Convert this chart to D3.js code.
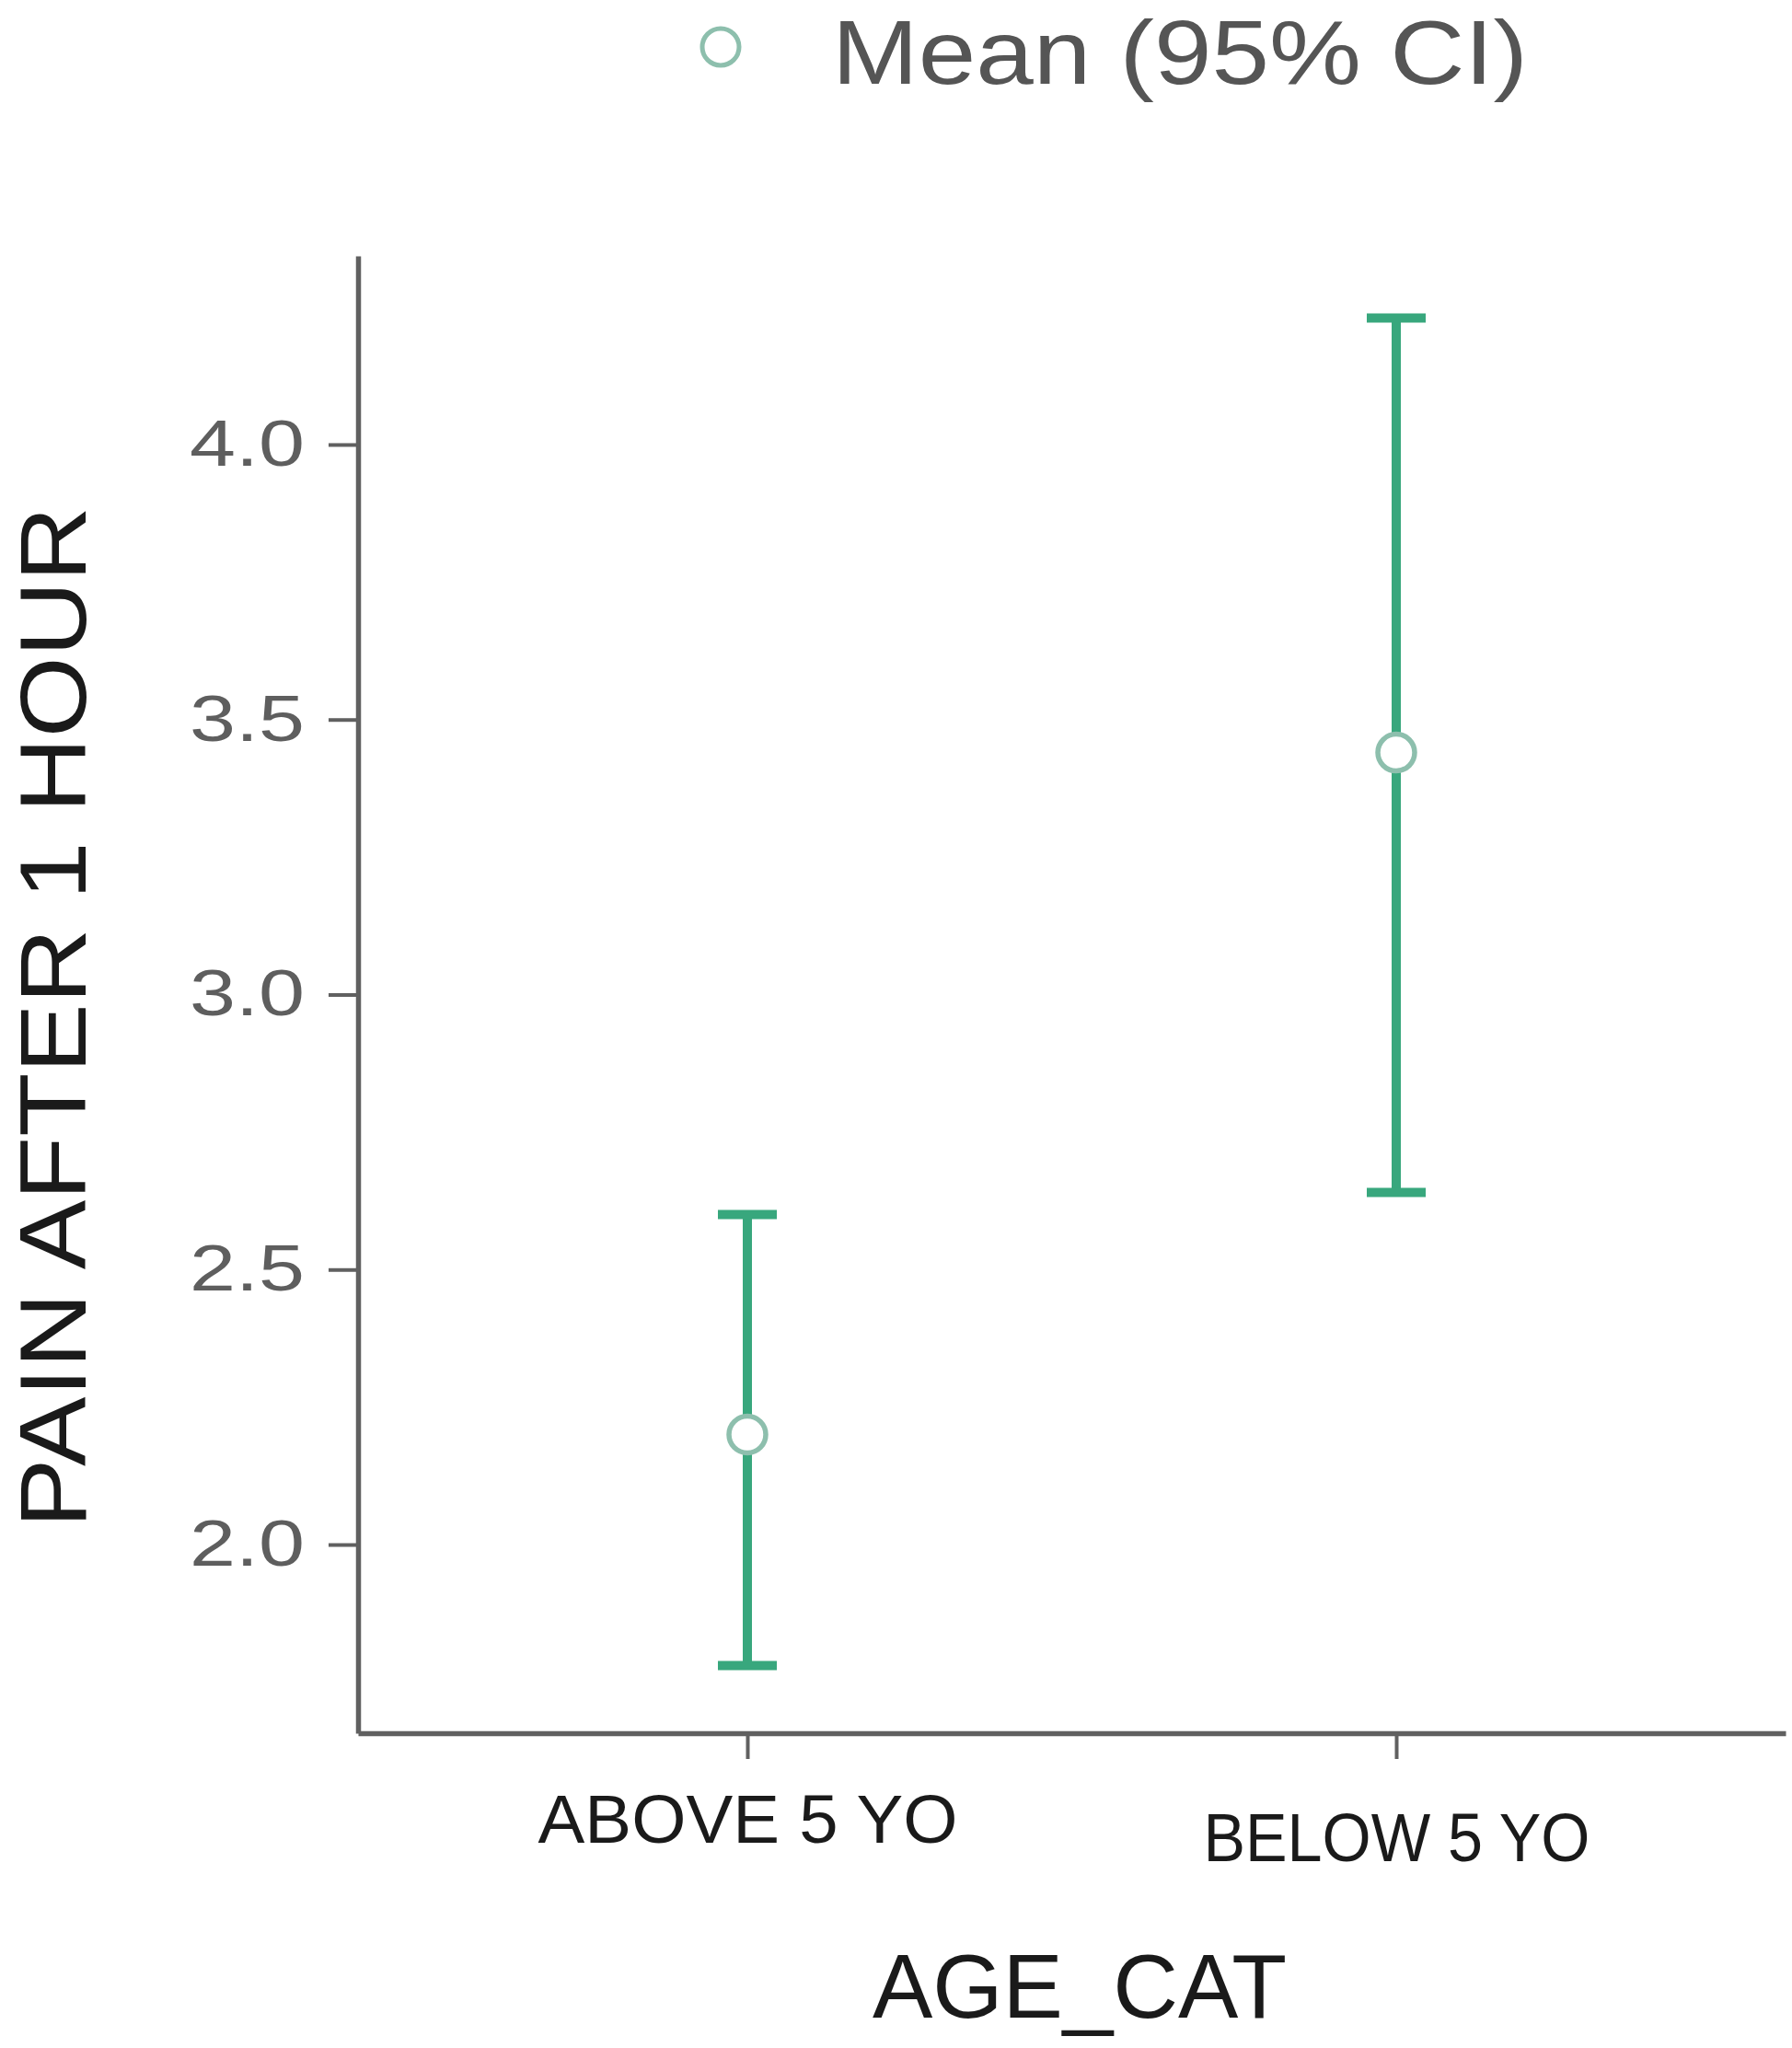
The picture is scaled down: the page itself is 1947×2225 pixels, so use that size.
<!DOCTYPE html>
<html>
<head>
<meta charset="utf-8">
<script src="https://cdn.jsdelivr.net/npm/d3@7"></script>
<style>
  html, body { margin: 0; padding: 0; background: #fff; }
  svg { display: block; }
  text { font-family: "Liberation Sans", Arial, sans-serif; }
</style>
</head>
<body>
<svg id="chart" width="1947" height="2225"></svg>
<script>
// ---- data ----
const categories = ["ABOVE 5 YO", "BELOW 5 YO"];
const means = [2.20, 3.44];
const lowerCI = [1.78, 2.64];
const upperCI = [2.60, 4.23];
const yTicks = [2.0, 2.5, 3.0, 3.5, 4.0];
const legendLabel = "Mean (95% CI)";
const xTitle = "AGE_CAT";
const yTitle = "PAIN AFTER 1 HOUR";

// ---- layout ----
const axisLeft = 389, axisRight = 1940, axisTop = 278, axisBottom = 1883;
const green = "#38a77d";
const circleStroke = "#8dbfad";
const axisColor = "#606060";

const svg = d3.select("#chart");

const y = d3.scaleLinear().domain([1.657, 4.343]).range([axisBottom, axisTop]);
const x = d3.scalePoint().domain(categories).range([axisLeft, axisRight]).padding(0.6);

// Y axis
const yAxis = svg.append("g")
  .attr("transform", `translate(${axisLeft},0)`)
  .call(d3.axisLeft(y).tickValues(yTicks).tickFormat(d3.format(".1f")).tickSize(32).tickPadding(26).tickSizeOuter(0));
yAxis.select(".domain").attr("stroke", axisColor).attr("stroke-width", 5.5);
yAxis.selectAll(".tick line").attr("stroke", axisColor).attr("stroke-width", 4);
yAxis.selectAll(".tick text")
  .attr("fill", "#5e5e5e")
  .attr("font-size", 70)
  .attr("textLength", 125)
  .attr("lengthAdjust", "spacingAndGlyphs");

// X axis
const xAxis = svg.append("g")
  .attr("transform", `translate(0,${axisBottom})`)
  .call(d3.axisBottom(x).tickSize(28).tickPadding(38).tickSizeOuter(0));
xAxis.select(".domain").attr("stroke", axisColor).attr("stroke-width", 5.5);
xAxis.selectAll(".tick line").attr("stroke", axisColor).attr("stroke-width", 4);
const xLabelWidths = [456, 420];
const xLabelDy = [0, 20];
xAxis.selectAll(".tick text")
  .attr("fill", "#1a1a1a")
  .attr("font-size", 74)
  .attr("dy", (d, i) => (0.71 * 74 + xLabelDy[i]) + "px")
  .attr("textLength", (d, i) => xLabelWidths[i])
  .attr("lengthAdjust", "spacingAndGlyphs");

// Error bars
const capHalf = 32;
const g = svg.append("g");
categories.forEach((c, i) => {
  const cx = x(c);
  g.append("line")
    .attr("x1", cx).attr("x2", cx)
    .attr("y1", y(upperCI[i])).attr("y2", y(lowerCI[i]))
    .attr("stroke", green).attr("stroke-width", 10);
  [upperCI[i], lowerCI[i]].forEach(v => {
    g.append("line")
      .attr("x1", cx - capHalf).attr("x2", cx + capHalf)
      .attr("y1", y(v)).attr("y2", y(v))
      .attr("stroke", green).attr("stroke-width", 10);
  });
  g.append("circle")
    .attr("cx", cx).attr("cy", y(means[i])).attr("r", 20)
    .attr("fill", "#fff").attr("stroke", circleStroke).attr("stroke-width", 5.5);
});

// Axis titles
svg.append("text")
  .attr("x", 1173).attr("y", 2192)
  .attr("text-anchor", "middle")
  .attr("font-size", 98)
  .attr("fill", "#1a1a1a")
  .attr("textLength", 450)
  .attr("lengthAdjust", "spacingAndGlyphs")
  .text(xTitle);

svg.append("text")
  .attr("transform", "translate(93,1105) rotate(-90)")
  .attr("text-anchor", "middle")
  .attr("font-size", 102)
  .attr("fill", "#1a1a1a")
  .attr("textLength", 1110)
  .attr("lengthAdjust", "spacingAndGlyphs")
  .text(yTitle);

// Legend
svg.append("circle")
  .attr("cx", 783).attr("cy", 51).attr("r", 20)
  .attr("fill", "#fff").attr("stroke", circleStroke).attr("stroke-width", 5);
svg.append("text")
  .attr("x", 904).attr("y", 91)
  .attr("font-size", 98)
  .attr("fill", "#555")
  .attr("textLength", 756)
  .attr("lengthAdjust", "spacingAndGlyphs")
  .text(legendLabel);
</script>
</body>
</html>
